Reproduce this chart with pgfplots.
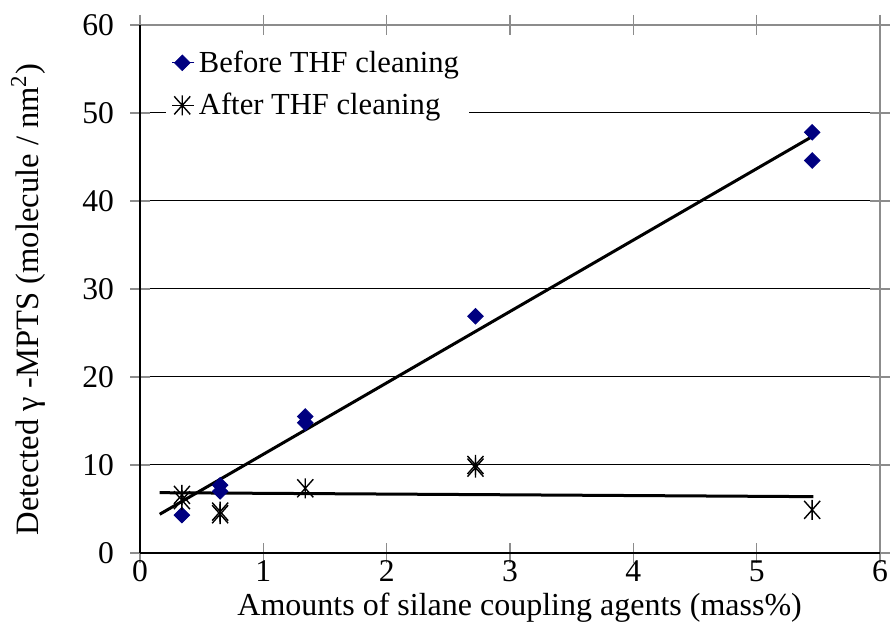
\documentclass[border=0pt]{standalone}
\usepackage{fontspec}
\setmainfont{Liberation Serif}
\usepackage{pgfplots}
\pgfplotsset{compat=1.18}

\definecolor{navymark}{HTML}{000080}
\definecolor{frame}{HTML}{8C8C8C}

% vertical bar crossed by an X
\pgfdeclareplotmark{xbar}{%
  \pgfpathmoveto{\pgfqpoint{0pt}{\pgfplotmarksize}}%
  \pgfpathlineto{\pgfqpoint{0pt}{-\pgfplotmarksize}}%
  \pgfpathmoveto{\pgfqpoint{-.8\pgfplotmarksize}{.9\pgfplotmarksize}}%
  \pgfpathlineto{\pgfqpoint{.8\pgfplotmarksize}{-.9\pgfplotmarksize}}%
  \pgfpathmoveto{\pgfqpoint{-.8\pgfplotmarksize}{-.9\pgfplotmarksize}}%
  \pgfpathlineto{\pgfqpoint{.8\pgfplotmarksize}{.9\pgfplotmarksize}}%
  \pgfusepathqstroke
}

\pgfplotstableread{
x     y
0.34  4.3
0.65  7.0
0.65  7.7
1.34  14.8
1.34  15.5
2.72  26.9
5.45  44.6
5.45  47.8
}\before

\pgfplotstableread{
x     y
0.34  6.0
0.34  6.6
0.65  4.4
0.65  4.7
1.34  7.35
2.72  9.7
2.72  10.0
5.45  4.9
}\after

\begin{document}
\begin{tikzpicture}
\begin{axis}[
  scale only axis,
  width=370pt, height=264pt,
  xmin=0, xmax=6, ymin=0, ymax=60,
  xtick={0,1,...,6}, ytick={0,10,...,60},
  tick align=center,
  major tick length=10pt,
  tick style={draw=frame, line width=0.6pt},
  axis line style={draw=frame, line width=0.6pt},
  ymajorgrids,
  major grid style={draw=black, line width=0.5pt},
  clip=false,
  font=\fontsize{15.5}{18}\selectfont,
  /pgf/number format/assume math mode=true,
  ticklabel style={font=\fontsize{15.8}{18}\selectfont},
  yticklabel style={xshift=-4.5pt},
  xticklabel style={yshift=2.5pt, inner sep=1pt},
  xlabel={Amounts of silane coupling agents (mass\%)},
  ylabel={Detected γ -MPTS (molecule / nm\textsuperscript{2})},
  every axis x label/.style={at={(axis description cs:0.513,-0.104)}, anchor=center,
    inner sep=1pt, font=\fontsize{16}{18}\selectfont},
  every axis y label/.style={at={(axis description cs:-0.151,0.48)}, rotate=90, anchor=center,
    font=\fontsize{16.3}{18}\selectfont},
  legend style={draw=none, fill=white, at={(axis description cs:0.034,0.975)}, anchor=north west,
    font=\fontsize{15.3}{18}\selectfont, inner xsep=3pt, inner ysep=4pt, row sep=5pt,
    /tikz/every even column/.append style={column sep=0pt}},
  legend cell align=left,
  legend image code/.code={%
    \path (-5pt,0pt) -- (6pt,0pt);
    \draw[#1] plot coordinates {(0pt,0pt)};},
]
% linear trends
\addplot[black, line width=1.5pt, forget plot] coordinates {(0.16,4.4) (5.46,47.4)};
\addplot[black, line width=1.5pt, forget plot] coordinates {(0.16,6.85) (5.46,6.4)};

\addplot[only marks, mark=square*, mark size=2.75pt, mark options={rotate=45},
  draw=navymark, fill=navymark]
  table[x=x, y=y] {\before};
\addlegendentry{Before THF cleaning}
\addplot[only marks, mark=xbar, mark size=5pt, draw=black, line width=0.7pt]
  table[x=x, y=y] {\after};
\addlegendentry{After THF cleaning}

% black axis lines on the left and bottom
\draw[black, line width=0.6pt] (rel axis cs:0,0) -- (rel axis cs:1,0);
\draw[black, line width=0.6pt] (rel axis cs:0,0) -- (rel axis cs:0,1);

\coordinate (bbl) at (rel axis cs:-0.1892,-0.1705);
\coordinate (bbr) at (rel axis cs:1.0135,1.0473);
\end{axis}
\pgfresetboundingbox
\path (bbl) rectangle (bbr);
\end{tikzpicture}
\end{document}
